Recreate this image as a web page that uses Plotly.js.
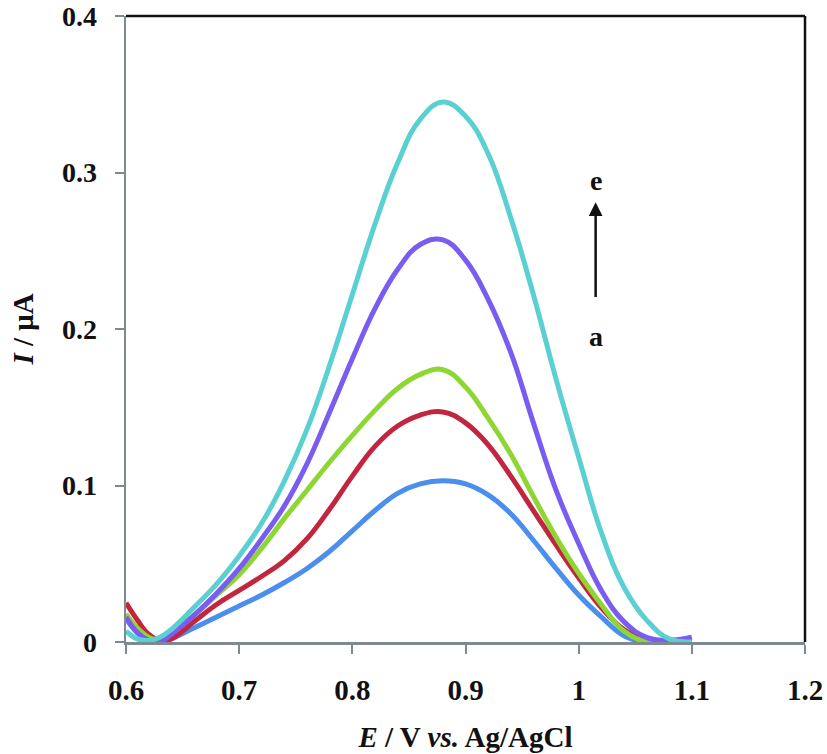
<!DOCTYPE html>
<html>
<head>
<meta charset="utf-8">
<script src="https://cdn.plot.ly/plotly-3.0.1.min.js"></script>
<style>
  html, body { margin: 0; padding: 0; background: #fff; }
  #chart_area { width: 827px; height: 754px; }
</style>
</head>
<body>
<div id="chart_area"></div>
<script>
// potential, V vs. Ag/AgCl
var potential = [0.60, 0.61, 0.62, 0.63, 0.64, 0.66, 0.68, 0.70, 0.72, 0.74, 0.76, 0.78, 0.80, 0.82,
                 0.84, 0.86, 0.88, 0.90, 0.92, 0.94, 0.96, 0.98, 1.00, 1.02, 1.04, 1.06, 1.08, 1.10];

// current, uA (curves a..e)
var curveA = [0.015, 0.006, 0.001, 0.000, 0.002, 0.009, 0.016, 0.023, 0.030, 0.038, 0.047, 0.058, 0.071, 0.084,
              0.095, 0.101, 0.103, 0.101, 0.094, 0.082, 0.065, 0.047, 0.030, 0.016, 0.004, 0.000, 0.000, 0.000];
var curveB = [0.025, 0.014, 0.005, 0.001, 0.002, 0.013, 0.024, 0.033, 0.042, 0.052, 0.066, 0.085, 0.106, 0.125,
              0.138, 0.145, 0.147, 0.140, 0.126, 0.106, 0.084, 0.062, 0.041, 0.022, 0.008, 0.001, 0.000, 0.000];
var curveC = [0.018, 0.009, 0.003, 0.001, 0.006, 0.017, 0.030, 0.043, 0.060, 0.079, 0.097, 0.115, 0.132, 0.148,
              0.162, 0.171, 0.174, 0.163, 0.143, 0.120, 0.093, 0.067, 0.044, 0.024, 0.007, 0.000, 0.000, 0.000];
var curveD = [0.016, 0.006, 0.001, 0.000, 0.005, 0.017, 0.031, 0.047, 0.066, 0.087, 0.114, 0.147, 0.181, 0.213,
              0.238, 0.254, 0.257, 0.244, 0.219, 0.185, 0.140, 0.097, 0.063, 0.033, 0.013, 0.003, 0.001, 0.003];
var curveE = [0.007, 0.002, 0.001, 0.003, 0.008, 0.022, 0.037, 0.055, 0.076, 0.103, 0.136, 0.177, 0.222, 0.267,
              0.306, 0.334, 0.345, 0.336, 0.312, 0.271, 0.222, 0.168, 0.118, 0.070, 0.035, 0.014, 0.002, 0.000];

var xTicks = [0.6, 0.7, 0.8, 0.9, 1.0, 1.1, 1.2];
var xTickText = ['0.6', '0.7', '0.8', '0.9', '1', '1.1', '1.2'];
var yTicks = [0, 0.1, 0.2, 0.3, 0.4];
var yTickText = ['0', '0.1', '0.2', '0.3', '0.4'];

var curves = [curveA, curveB, curveC, curveD, curveE];
var names = ['a', 'b', 'c', 'd', 'e'];
var colors = ['#4a8eee', '#c2263f', '#8dd634', '#7a5cf0', '#5ad0d2'];

var data = curves.map(function (ys, i) {
    return {
        x: potential,
        y: ys,
        type: 'scatter',
        mode: 'lines',
        name: names[i],
        hoverinfo: 'none',
        line: { color: colors[i], width: 5, shape: 'spline', smoothing: 1.2 }
    };
});

var serif = '"Liberation Serif", "Times New Roman", serif';
var axisGray = '#7e8a8f';

var layout = {
    width: 827,
    height: 754,
    showlegend: false,
    margin: { l: 126, r: 22, t: 16, b: 112 },
    paper_bgcolor: '#fff',
    plot_bgcolor: '#fff',
    font: { family: serif, size: 29, color: '#111' },
    xaxis: {
        range: [0.6, 1.2],
        tickvals: xTicks,
        ticktext: xTickText,
        ticks: 'outside',
        ticklen: 9,
        tickwidth: 2,
        tickcolor: axisGray,
        showline: true,
        linecolor: axisGray,
        linewidth: 2.5,
        showgrid: false,
        zeroline: false,
        ticklabelstandoff: 12,
        ticklabeloverflow: 'allow',
        tickfont: { family: serif, size: 29, color: '#111', weight: 'bold' },
        title: {
            text: '<b><i>E</i> / V <i>vs.</i> Ag/AgCl</b>',
            font: { family: serif, size: 29, color: '#111' },
            standoff: 22
        }
    },
    yaxis: {
        range: [0, 0.4],
        tickvals: yTicks,
        ticktext: yTickText,
        ticks: 'outside',
        ticklen: 9,
        tickwidth: 2,
        tickcolor: axisGray,
        showline: true,
        linecolor: axisGray,
        linewidth: 2.5,
        showgrid: false,
        zeroline: false,
        ticklabelstandoff: 12,
        ticklabeloverflow: 'allow',
        tickfont: { family: serif, size: 28, color: '#111', weight: 'bold' },
        title: {
            text: '<b><i>I</i> / μA</b>',
            font: { family: serif, size: 29, color: '#111' },
            standoff: 20
        }
    },
    // black frame on top and right
    shapes: [
        { type: 'line', xref: 'paper', yref: 'paper', x0: 0, x1: 1, y0: 1, y1: 1,
          line: { color: '#111', width: 2.5 } },
        { type: 'line', xref: 'paper', yref: 'paper', x0: 1, x1: 1, y0: 0, y1: 1,
          line: { color: '#111', width: 2.5 } }
    ],
    annotations: [
        { x: 1.015, y: 0.281, ax: 1.015, ay: 0.2195, xref: 'x', yref: 'y', axref: 'x', ayref: 'y',
          text: '', showarrow: true, arrowhead: 2, arrowsize: 1.1, arrowwidth: 2.5, arrowcolor: '#111' },
        { x: 1.015, y: 0.295, xref: 'x', yref: 'y', text: '<b>e</b>', showarrow: false,
          font: { family: serif, size: 28, color: '#111' } },
        { x: 1.015, y: 0.195, xref: 'x', yref: 'y', text: '<b>a</b>', showarrow: false,
          font: { family: serif, size: 28, color: '#111' } }
    ]
};

var config = { displayModeBar: false, staticPlot: true };

Plotly.newPlot('chart_area', data, layout, config);
</script>
</body>
</html>
